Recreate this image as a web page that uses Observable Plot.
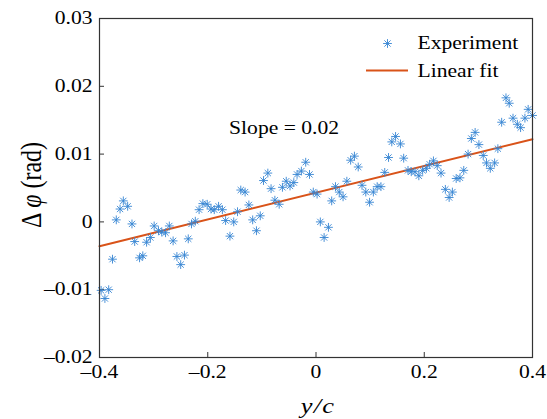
<!DOCTYPE html>
<html>
<head>
<meta charset="utf-8">
<script src="https://cdn.jsdelivr.net/npm/d3@7"></script>
<script src="https://cdn.jsdelivr.net/npm/@observablehq/plot@0.6"></script>
<style>
  html, body { margin: 0; padding: 0; background: #fff; }
  #chart { position: relative; width: 547px; height: 419px; }
  #chart svg text { font-family: 'Liberation Serif', 'Times New Roman', serif; }
  #chart svg g[aria-label$="tick label"] text { font-size: 18px; }
</style>
</head>
<body>
<div id="chart"></div>
<script>
// ---- data ----
const xs = [-0.397,-0.390,-0.383,-0.376,-0.369,-0.362,-0.356,-0.348,-0.340,-0.335,-0.326,-0.320,-0.313,-0.306,-0.299,-0.291,-0.285,-0.278,-0.271,-0.264,-0.257,-0.250,-0.243,-0.236,-0.230,-0.223,-0.216,-0.209,-0.201,-0.194,-0.188,-0.180,-0.173,-0.167,-0.159,-0.152,-0.145,-0.139,-0.131,-0.124,-0.117,-0.110,-0.103,-0.097,-0.089,-0.083,-0.076,-0.068,-0.062,-0.055,-0.048,-0.041,-0.035,-0.027,-0.019,-0.012,-0.005,0.002,0.008,0.015,0.023,0.029,0.036,0.043,0.050,0.057,0.064,0.071,0.078,0.085,0.092,0.099,0.106,0.113,0.120,0.127,0.134,0.140,0.147,0.156,0.162,0.170,0.176,0.183,0.190,0.197,0.204,0.210,0.217,0.224,0.231,0.239,0.246,0.252,0.259,0.266,0.273,0.281,0.287,0.294,0.301,0.309,0.315,0.322,0.330,0.336,0.343,0.351,0.357,0.364,0.372,0.378,0.386,0.392,0.400];
const ys = [-0.0101,-0.0113,-0.0100,-0.0055,0.0003,0.0019,0.0031,0.0023,-0.0003,-0.0029,-0.0053,-0.0050,-0.0030,-0.0023,-0.0006,-0.0013,-0.0015,-0.0016,-0.0006,-0.0028,-0.0051,-0.0063,-0.0049,-0.0025,-0.0003,0.0001,0.0018,0.0027,0.0026,0.0019,0.0018,0.0023,0.0018,0.0002,-0.0021,0.0000,0.0015,0.0047,0.0044,0.0025,0.0003,-0.0013,0.0009,0.0061,0.0072,0.0049,0.0032,0.0026,0.0051,0.0060,0.0053,0.0058,0.0070,0.0075,0.0088,0.0070,0.0044,0.0041,0.0000,-0.0023,-0.0008,0.0031,0.0052,0.0044,0.0037,0.0060,0.0091,0.0097,0.0081,0.0054,0.0044,0.0029,0.0044,0.0052,0.0052,0.0073,0.0095,0.0118,0.0126,0.0115,0.0094,0.0076,0.0074,0.0074,0.0068,0.0076,0.0079,0.0085,0.0090,0.0083,0.0072,0.0048,0.0036,0.0044,0.0064,0.0065,0.0076,0.0100,0.0123,0.0132,0.0114,0.0098,0.0087,0.0079,0.0087,0.0108,0.0147,0.0183,0.0175,0.0153,0.0144,0.0139,0.0153,0.0166,0.0157];
const fitX = [-0.4, 0.4];
const fitY = [-0.0036, 0.0122];
const xTicks = [-0.4, -0.2, 0, 0.2, 0.4];
const yTicks = [-0.02, -0.01, 0, 0.01, 0.02, 0.03];
const seriesNames = ["Experiment", "Linear fit"];
const annotation = [{x: -0.059, y: 0.0138, text: "Slope = 0.02"}];

const points = xs.map((x, i) => ({x, y: ys[i]}));
const fit = fitX.map((x, i) => ({x, y: fitY[i]}));

const blue = "#3585d2";
const orange = "#d95319";
const font = "'Liberation Serif', 'Times New Roman', serif";
const stretch = 1.2; // reference glyphs are horizontally widened
const fmt = d => d === 0 ? "0" : (d < 0 ? "\u2013" : "") + String(+Math.abs(d).toFixed(4));

// 8-spoke asterisk symbol (MATLAB '*')
const asterisk8 = {
  draw(ctx, size) {
    const r = Math.sqrt(size / Math.PI);
    const d = r * Math.SQRT1_2;
    ctx.moveTo(-r, 0); ctx.lineTo(r, 0);
    ctx.moveTo(0, -r); ctx.lineTo(0, r);
    ctx.moveTo(-d, -d); ctx.lineTo(d, d);
    ctx.moveTo(-d, d); ctx.lineTo(d, -d);
  }
};

const plot = Plot.plot({
  width: 547,
  height: 419,
  marginLeft: 99,
  marginRight: 15,
  marginTop: 18,
  marginBottom: 62,
  style: {fontFamily: font, fontSize: "18px", color: "#000", background: "#fff"},
  x: {domain: [-0.4, 0.4]},
  y: {domain: [-0.02, 0.03]},
  marks: [
    Plot.axisX({ticks: xTicks, tickFormat: fmt, tickSize: -5, tickPadding: 13, label: null, fontSize: 18, stroke: "#333"}),
    Plot.axisY({ticks: yTicks, tickFormat: fmt, tickSize: -5, tickPadding: 12, label: null, fontSize: 18, stroke: "#333"}),
    Plot.line(fit, {x: "x", y: "y", stroke: orange, strokeWidth: 2}),
    Plot.dot(points, {x: "x", y: "y", symbol: asterisk8, r: 4.4, fill: "none", stroke: blue, strokeWidth: 0.9}),
    Plot.text(annotation, {x: "x", y: "y", text: "text", fontSize: 18, fill: "#000"}),
    // legend
    Plot.dot([seriesNames[0]], {frameAnchor: "top-right", dx: -145, dy: 25, symbol: asterisk8, r: 4.4, fill: "none", stroke: blue, strokeWidth: 0.9}),
    Plot.text([seriesNames[0]], {frameAnchor: "top-right", dx: -115, dy: 25, textAnchor: "start", lineAnchor: "middle", fontSize: 18, fill: "#000"}),
    Plot.text([seriesNames[1]], {frameAnchor: "top-right", dx: -115, dy: 53, textAnchor: "start", lineAnchor: "middle", fontSize: 18, fill: "#000"}),
    Plot.frame({stroke: "#333", strokeWidth: 1.2})
  ]
});

document.getElementById("chart").appendChild(plot);

const svg = d3.select(plot);
svg.selectAll('g[aria-label$="tick label"]').attr("font-size", 18);

// widen glyphs horizontally, keeping each text's anchor point fixed
svg.selectAll("text").each(function () {
  const xa = this.getAttribute("x");
  if (xa !== null && isFinite(+xa)) this.setAttribute("x", +xa / stretch);
  const t = this.getAttribute("transform") || "";
  this.setAttribute("transform", `${t} scale(${stretch},1)`.trim());
  this.setAttribute("font-family", font);
});

// legend line sample
svg.append("line")
  .attr("x1", 366).attr("x2", 408).attr("y1", 70.5).attr("y2", 70.5)
  .attr("stroke", orange).attr("stroke-width", 2);

// axis labels (mixed italic)
const yl = svg.append("text")
  .attr("transform", `translate(41,185) scale(${stretch},1) rotate(-90)`)
  .attr("text-anchor", "middle")
  .attr("font-family", font).attr("font-size", 24).attr("fill", "#000");
yl.append("tspan").text("\u0394\u2009");
yl.append("tspan").attr("font-style", "italic").text("\u03c6");
yl.append("tspan").text(" (rad)");

const xl = svg.append("text")
  .attr("transform", `translate(318,413) scale(${stretch},1)`)
  .attr("text-anchor", "middle")
  .attr("font-family", font).attr("font-size", 22).attr("font-style", "italic")
  .attr("letter-spacing", 1).attr("fill", "#000");
xl.text("y/c");
</script>
</body>
</html>
